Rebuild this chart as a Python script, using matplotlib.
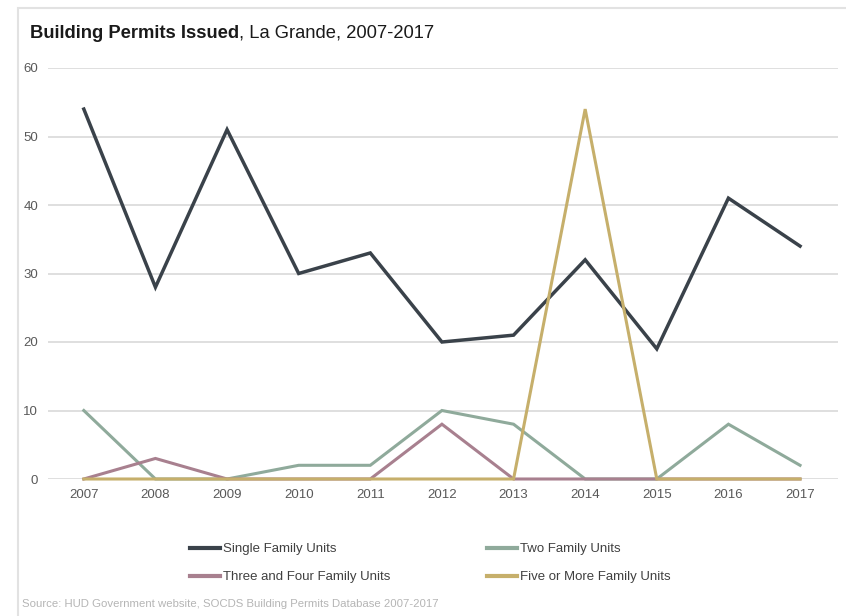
import matplotlib
matplotlib.use("Agg")
import matplotlib.pyplot as plt
from matplotlib.patches import Rectangle
from matplotlib.lines import Line2D

years = [2007, 2008, 2009, 2010, 2011, 2012, 2013, 2014, 2015, 2016, 2017]
single_family = [54, 28, 51, 30, 33, 20, 21, 32, 19, 41, 34]
two_family = [10, 0, 0, 2, 2, 10, 8, 0, 0, 8, 2]
three_four_family = [0, 3, 0, 0, 0, 8, 0, 0, 0, 0, 0]
five_plus_family = [0, 0, 0, 0, 0, 0, 0, 54, 0, 0, 0]
y_ticks = [0, 10, 20, 30, 40, 50, 60]

narrow = ["Liberation Sans Narrow", "Liberation Sans", "DejaVu Sans"]
regular = ["Liberation Sans", "DejaVu Sans"]

fig = plt.figure(figsize=(8.46, 6.16), dpi=100)
fig.patch.set_facecolor("white")

# light frame around the panel
fig.patches.append(Rectangle((18 / 846, -0.05), 1.2, 1 - 8 / 616 + 0.05,
                             transform=fig.transFigure, fill=False,
                             edgecolor="#e2e2e2", linewidth=1.5, zorder=0))

ax = fig.add_axes([48 / 846, 1 - 479 / 616, (838 - 48) / 846, (479 - 68) / 616])
ax.set_xlim(2006.5, 2017.53)
ax.set_ylim(0, 60)

for v in y_ticks:
    ax.axhline(v, color="#d9d9d9", linewidth=1.2, zorder=1)

series = [
    ("Single Family Units", single_family, "#3a424a", 2.5),
    ("Two Family Units", two_family, "#8faa9b", 2.2),
    ("Three and Four Family Units", three_four_family, "#a8808f", 2.2),
    ("Five or More Family Units", five_plus_family, "#c6af6b", 2.2),
]
handles = {}
for i, (name, vals, color, lw) in enumerate(series):
    ax.plot(years, vals, color=color, linewidth=lw, clip_on=False,
            zorder=3 + i, solid_joinstyle="miter")
    handles[name] = Line2D([], [], color=color, linewidth=3)

for s in ax.spines.values():
    s.set_visible(False)
ax.set_xticks(years)
ax.set_xticklabels([str(y) for y in years])
ax.set_yticks(y_ticks)
ax.tick_params(length=0, labelsize=9.5, labelcolor="#595959")
ax.tick_params(axis="x", pad=7)
ax.tick_params(axis="y", pad=7)
for lab in ax.get_xticklabels() + ax.get_yticklabels():
    lab.set_family(narrow)

# title: bold lead-in followed by regular text
t1 = fig.text(30 / 846, 1 - 33 / 616, "Building Permits Issued", fontsize=13.2,
              fontweight="bold", color="#1a1a1a", family=regular, va="center")
fig.canvas.draw()
bb = t1.get_window_extent()
fig.text(bb.x1 / fig.bbox.width, 1 - 33 / 616, ", La Grande, 2007-2017",
         fontsize=13.2, color="#1a1a1a", family=regular, va="center")

order = ["Single Family Units", "Three and Four Family Units",
         "Two Family Units", "Five or More Family Units"]
leg = fig.legend([handles[n] for n in order], order, ncol=2, frameon=False,
                 loc="upper left", bbox_to_anchor=(190 / 846, 1 - 543 / 616),
                 borderpad=0, borderaxespad=0,
                 handlelength=2.3, handletextpad=0.2, columnspacing=7.3,
                 labelspacing=1.2, prop={"family": narrow, "size": 9.5})
for txt in leg.get_texts():
    txt.set_color("#404040")

fig.text(22 / 846, 1 - 604 / 616,
         "Source: HUD Government website, SOCDS Building Permits Database 2007-2017",
         fontsize=8.2, color="#b5b5b5", family=narrow, va="center")

fig.savefig("out.png", dpi=100, facecolor="white")
